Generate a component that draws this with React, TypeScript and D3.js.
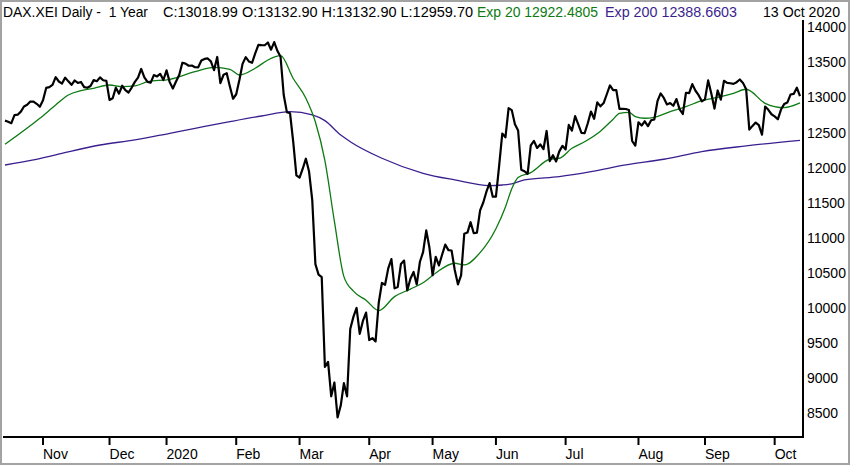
import * as d3 from "d3";

// DAX daily closes, 16 Oct 2019 .. 13 Oct 2020, one array per month
const oct19 = [12670, 12655, 12634, 12748, 12755, 12798, 12872, 12895, 12942, 12940, 12910, 12867];
const nov19 = [12961, 13136, 13148, 13180, 13289, 13228, 13198, 13283, 13230, 13180, 13242, 13207, 13221, 13148, 13138, 13164, 13247, 13232, 13287, 13245, 13236];
const dec19 = [12965, 12989, 13140, 13055, 13167, 13105, 13071, 13141, 13222, 13283, 13407, 13287, 13222, 13212, 13319, 13300, 13337, 13249];
const jan20 = [13386, 13219, 13127, 13227, 13320, 13495, 13483, 13452, 13456, 13432, 13430, 13526, 13549, 13556, 13515, 13389, 13577, 13205, 13324, 13345, 13158, 12982];
const feb20 = [13046, 13249, 13479, 13575, 13514, 13494, 13627, 13750, 13745, 13744, 13783, 13681, 13789, 13665, 13579, 13035, 12791, 12775, 12367, 11890];
const mar20 = [11857, 11985, 12128, 11945, 11542, 10625, 10475, 10439, 9161, 9232, 8742, 8939, 8442, 8610, 8929, 8742, 9701, 9874, 10001, 9633, 9816, 9936];
const apr20 = [9544, 9571, 9525, 10075, 10357, 10332, 10565, 10697, 10280, 10301, 10626, 10676, 10250, 10416, 10514, 10336, 10659, 10796, 11107, 10862];
const may20 = [10467, 10730, 10606, 10760, 10904, 10825, 10820, 10542, 10337, 10465, 11058, 11075, 11223, 11066, 11074, 11392, 11504, 11657, 11781, 11587];
const jun20 = [11586, 12021, 12487, 12431, 12848, 12820, 12617, 12530, 11970, 11949, 11911, 12316, 12382, 12281, 12331, 12263, 12523, 12094, 12178, 12089, 12232, 12311];
const jul20 = [12260, 12609, 12528, 12734, 12617, 12495, 12490, 12633, 12800, 12697, 12931, 12874, 12920, 13046, 13171, 13105, 13104, 12838, 12839, 12836, 12822, 12380, 12313];
const aug20 = [12647, 12600, 12661, 12592, 12675, 12687, 12947, 13058, 12994, 12901, 12920, 12882, 12977, 12830, 12765, 13067, 13062, 13190, 13096, 13033, 12945];
const sep20 = [12974, 13243, 13058, 12842, 13100, 12968, 13238, 13209, 13203, 13194, 13218, 13256, 13208, 13116, 12542, 12595, 12643, 12606, 12469, 12871, 12825, 12761];
const oct20 = [12731, 12689, 12828, 12906, 12928, 13042, 13051, 13139, 13019];

const months = [oct19, nov19, dec19, jan20, feb20, mar20, apr20, may20, jun20, jul20, aug20, sep20, oct20];
// label for the first trading day of each month (first partial month has none)
const monthLabels = ["", "Nov", "Dec", "2020", "Feb", "Mar", "Apr", "May", "Jun", "Jul", "Aug", "Sep", "Oct"];

// [trading day index, value]
const ema20: [number, number][] = [
  [0, 12333], [11, 12704], [16, 12893], [20, 13035], [24, 13097], [28, 13131], [33, 13178],
  [37, 13154], [41, 13164], [45, 13225], [52, 13259], [60, 13368], [66, 13430], [71, 13402],
  [74, 13320], [79, 13416], [83, 13534], [87, 13595], [91, 13270], [95, 12990], [98, 12650],
  [101, 12100], [104, 11235], [107, 10447], [110, 10240], [114, 10110], [118, 9963], [123, 10163],
  [128, 10270], [132, 10360], [136, 10500], [142, 10638], [145, 10614], [150, 10790], [155, 11130],
  [158, 11440], [160, 11700], [162, 11860], [166, 11930], [172, 12120], [175, 12134], [179, 12276],
  [183, 12370], [188, 12520], [192, 12690], [194, 12775], [197, 12789], [199, 12727], [202, 12704],
  [205, 12718], [210, 12798], [215, 12869], [220, 12955], [226, 13011], [230, 13060], [234, 13117],
  [240, 12917], [246, 12855], [251, 12922],
];
const ema200: [number, number][] = [
  [0, 12038], [9, 12110], [16, 12181], [30, 12323], [41, 12395], [52, 12490], [60, 12560],
  [71, 12655], [81, 12736], [90, 12798], [97, 12751], [101, 12670], [106, 12464], [109, 12370],
  [119, 12134], [132, 11920], [142, 11825], [153, 11744], [157, 11753], [160, 11770], [164, 11825],
  [175, 11872], [185, 11943], [196, 12039], [208, 12120], [220, 12230], [234, 12310], [251, 12389],
];

const yTicks = [8500, 9000, 9500, 10000, 10500, 11000, 11500, 12000, 12500, 13000, 13500, 14000];

const GREEN = "#0d7a12";
const PURPLE = "#3b1f8f";
const FONT = "'Liberation Sans', Arial, sans-serif";

const W = 850;
const H = 465;
const plot = { left: 3, right: 803, top: 20, bottom: 437 };

export default function App() {
  const closes = months.flat();
  const starts: number[] = [];
  months.reduce((acc, m) => {
    starts.push(acc);
    return acc + m.length;
  }, 0);

  const x = d3.scaleLinear().domain([0, closes.length - 1]).range([5, 800]);
  const y = d3.scaleLinear().domain([8500, 14000]).range([413.3, 27.3]);

  const closeLine = d3
    .line<number>()
    .x((_, i) => x(i))
    .y((d) => y(d));
  const emaLine = d3
    .line<[number, number]>()
    .x((d) => x(d[0]))
    .y((d) => y(d[1]))
    .curve(d3.curveMonotoneX);

  return (
    <div style={{ position: "absolute", left: 0, top: 0 }}>
      <svg width={W} height={H} style={{ display: "block" }} fontFamily={FONT}>
        <rect x={1} y={1} width={W - 2} height={H - 2} fill="#fff" stroke="#a3a3a3" strokeWidth={2} />
        <defs>
          <clipPath id="plotClip">
            <rect x={plot.left} y={plot.top} width={plot.right - plot.left} height={plot.bottom - plot.top} />
          </clipPath>
        </defs>

        {/* header */}
        <g fontSize={14} fill="#000">
          <text x={3} y={17} textLength={145} lengthAdjust="spacingAndGlyphs" style={{ whiteSpace: "pre" }}>
            {"DAX.XEI Daily -  1 Year"}
          </text>
          <text x={163} y={17} textLength={310} lengthAdjust="spacingAndGlyphs">
            C:13018.99 O:13132.90 H:13132.90 L:12959.70
          </text>
          <text x={477} y={17} textLength={121} lengthAdjust="spacingAndGlyphs" fill={GREEN}>
            Exp 20 12922.4805
          </text>
          <text x={605} y={17} textLength={132} lengthAdjust="spacingAndGlyphs" fill={PURPLE}>
            Exp 200 12388.6603
          </text>
          <text x={763} y={17} textLength={77} lengthAdjust="spacingAndGlyphs">
            13 Oct 2020
          </text>
        </g>

        <g clipPath="url(#plotClip)" fill="none" strokeLinejoin="round">
          <path d={emaLine(ema200) ?? ""} stroke={PURPLE} strokeWidth={1.3} />
          <path d={emaLine(ema20) ?? ""} stroke={GREEN} strokeWidth={1.3} />
          <path d={closeLine(closes) ?? ""} stroke="#000" strokeWidth={2.2} />
        </g>

        {/* frame of the plot */}
        <path
          d={`M${plot.right},${plot.top}V${plot.bottom}H${plot.left}`}
          fill="none"
          stroke="#000"
          strokeWidth={2}
        />

        {/* right axis */}
        <g fontSize={14} fill="#000">
          {yTicks.map((t) => (
            <text key={t} x={807} y={y(t) + 5}>
              {t}
            </text>
          ))}
        </g>

        {/* month ticks */}
        <g fontSize={14} fill="#000">
          {starts.map((s, i) =>
            monthLabels[i] ? (
              <g key={i} transform={`translate(${x(s)},0)`}>
                <line y1={plot.bottom} y2={plot.bottom + 8} stroke="#000" strokeWidth={2} />
                <text x={0} y={459}>
                  {monthLabels[i]}
                </text>
              </g>
            ) : null
          )}
        </g>
      </svg>
    </div>
  );
}
